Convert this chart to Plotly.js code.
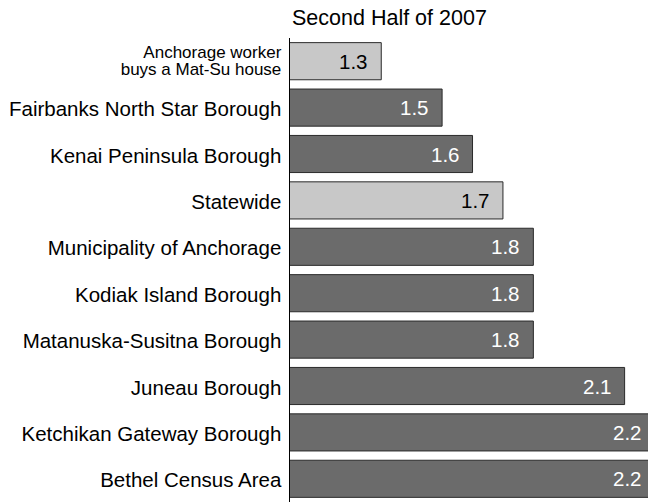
<!DOCTYPE html>
<html>
<head>
<meta charset="utf-8">
<script src="https://cdn.plot.ly/plotly-3.0.1.min.js"></script>
<style>html,body{margin:0;padding:0;overflow:hidden;background:#fff}</style>
</head>
<body>
<div id="chart" style="width:670px;height:502px"></div>
<script>
const categories = [
  'Anchorage worker<br>buys a Mat-Su house',
  'Fairbanks North Star Borough',
  'Kenai Peninsula Borough',
  'Statewide',
  'Municipality of Anchorage',
  'Kodiak Island Borough',
  'Matanuska-Susitna Borough',
  'Juneau Borough',
  'Ketchikan Gateway Borough',
  'Bethel Census Area'
];
const labelSizes = [17, 20.5, 20.5, 20.5, 20.5, 20.5, 20.5, 20.5, 20.5, 20.5];
const values = [1.3, 1.5, 1.6, 1.7, 1.8, 1.8, 1.8, 2.1, 2.2, 2.2];
const highlighted = [true, false, false, true, false, false, false, false, false, false];
const titleText = 'Second Half of 2007';

const FONT = 'Liberation Sans, Arial, Helvetica, sans-serif';
const barColors = highlighted.map(h => h ? '#c8c8c8' : '#6b6b6b');
const textColors = highlighted.map(h => h ? '#000000' : '#ffffff');
const tickText = categories.map((c, i) => {
  const lift = c.indexOf('<br>') >= 0 ? ';baseline-shift:3.5px' : '';
  return '<span style="font-size:' + labelSizes[i] + 'px' + lift + '">' + c + '</span>';
});
const idx = categories.map((c, i) => i);

const trace = {
  type: 'bar',
  orientation: 'h',
  y: idx,
  x: values,
  marker: {color: barColors, line: {color: '#2a2a2a', width: 1}},
  hoverinfo: 'none'
};

const annotations = values.map((v, i) => ({
  x: v, y: i, xref: 'x', yref: 'y',
  text: v.toFixed(1),
  showarrow: false,
  xanchor: 'right', yanchor: 'middle',
  xshift: -11, yshift: 0,
  font: {family: FONT, size: 20.5, color: textColors[i]}
}));

const layout = {
  width: 670,
  height: 502,
  margin: {l: 290, r: 0, t: 38, b: 0},
  paper_bgcolor: '#ffffff',
  plot_bgcolor: '#ffffff',
  font: {family: FONT, size: 20, color: '#000'},
  title: {
    text: titleText,
    font: {family: FONT, size: 21.5, color: '#000'},
    xref: 'paper', x: 0, xanchor: 'left', pad: {l: 2},
    yref: 'container', y: 1 - 17/502, yanchor: 'middle'
  },
  bargap: 0.2,
  showlegend: false,
  annotations: annotations,
  xaxis: {
    range: [1, 1 + 380/304.2],
    showgrid: false, zeroline: false, showticklabels: false,
    showline: false, ticks: '', fixedrange: true
  },
  yaxis: {
    autorange: 'reversed',
    tickmode: 'array', tickvals: idx, ticktext: tickText,
    showgrid: false, zeroline: false,
    showline: true, linecolor: '#000', linewidth: 1,
    ticks: '', ticklabelstandoff: 5, ticklabelshift: -4,
    tickfont: {family: FONT, size: 13.3, color: '#000'},
    fixedrange: true
  }
};

Plotly.newPlot('chart', [trace], layout, {displayModeBar: false, staticPlot: true});
</script>
</body>
</html>
